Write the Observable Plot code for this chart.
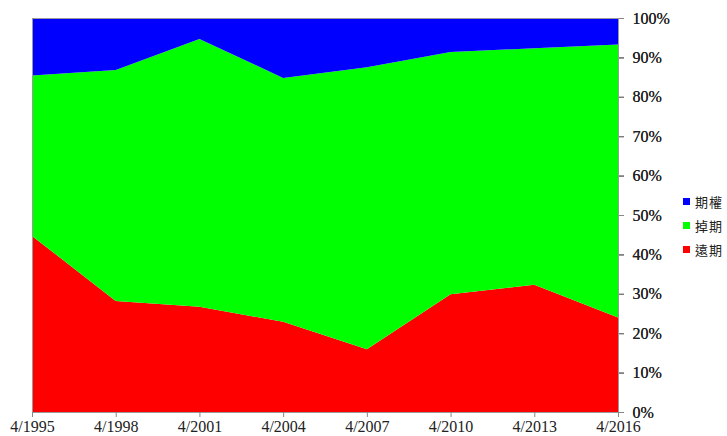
<!DOCTYPE html>
<html>
<head>
<meta charset="utf-8">
<script src="https://cdn.jsdelivr.net/npm/d3@7"></script>
<script src="https://cdn.jsdelivr.net/npm/@observablehq/plot@0.6"></script>
<style>
  body { margin: 0; background: #fff; }
  #wrap { position: relative; width: 727px; height: 436px; }
  #legend { position: absolute; left: 683px; top: 189px; font-family: "Noto Sans CJK TC", sans-serif; font-size: 13px; color: #222; }
  .row { display: flex; align-items: center; height: 24px; }
  .sw { width: 7px; height: 7px; margin-right: 5px; }
  .lab { letter-spacing: 1px; }
</style>
</head>
<body>
<div id="wrap"></div>
<script>
const years = [1995, 1998, 2001, 2004, 2007, 2010, 2013, 2016];
const seriesNames = ["遠期", "掉期", "期權"];
const seriesColors = ["#ff0000", "#00ff00", "#0000ff"];
const forwards = [44.7, 28.2, 26.7, 22.9, 15.9, 29.9, 32.3, 24.0];
const swaps    = [40.7, 58.6, 68.0, 61.9, 71.6, 61.5, 60.0, 69.3];
const options  = [14.6, 13.2, 5.3, 15.2, 12.5, 8.6, 7.7, 6.7];
const yTicks = [0, 10, 20, 30, 40, 50, 60, 70, 80, 90, 100];
const legendOrder = ["期權", "掉期", "遠期"];

const seriesValues = [forwards, swaps, options];
const data = [];
seriesNames.forEach((name, i) => {
  years.forEach((yr, j) => data.push({ year: yr, series: name, value: seriesValues[i][j] }));
});

const chart = Plot.plot({
  width: 727,
  height: 436,
  marginLeft: 32,
  marginRight: 109,
  marginTop: 18,
  marginBottom: 24,
  style: { fontFamily: "'Liberation Serif', 'Times New Roman', serif", fontSize: "16px", color: "#222", background: "#fff" },
  x: { domain: [1995, 2016], ticks: years, tickFormat: d => `4/${d}`, tickSize: 5, tickPadding: 3, label: null },
  y: { domain: [0, 100], ticks: yTicks, tickFormat: d => `${d}%`, axis: "right", tickSize: 5, tickPadding: 9, label: null },
  color: { domain: seriesNames, range: seriesColors },
  marks: [
    Plot.areaY(data, { x: "year", y: "value", z: "series", fill: "series", order: seriesNames }),
    Plot.frame({ stroke: "#999", strokeWidth: 1 }),
    Plot.axisX({ ticks: years, tickFormat: d => `4/${d}`, tickSize: 5, tickPadding: 3, stroke: "#888", fontSize: 16 }),
    Plot.axisY({ anchor: "right", ticks: yTicks, tickFormat: d => `${d}%`, tickSize: 5, tickPadding: 9, stroke: "#888", fontSize: 16 })
  ]
});
document.getElementById("wrap").appendChild(chart);

const legend = document.createElement("div");
legend.id = "legend";
legendOrder.forEach(name => {
  const row = document.createElement("div");
  row.className = "row";
  const sw = document.createElement("div");
  sw.className = "sw";
  sw.style.background = seriesColors[seriesNames.indexOf(name)];
  const lab = document.createElement("span");
  lab.className = "lab";
  lab.textContent = name;
  row.appendChild(sw);
  row.appendChild(lab);
  legend.appendChild(row);
});
document.getElementById("wrap").appendChild(legend);
</script>
</body>
</html>
